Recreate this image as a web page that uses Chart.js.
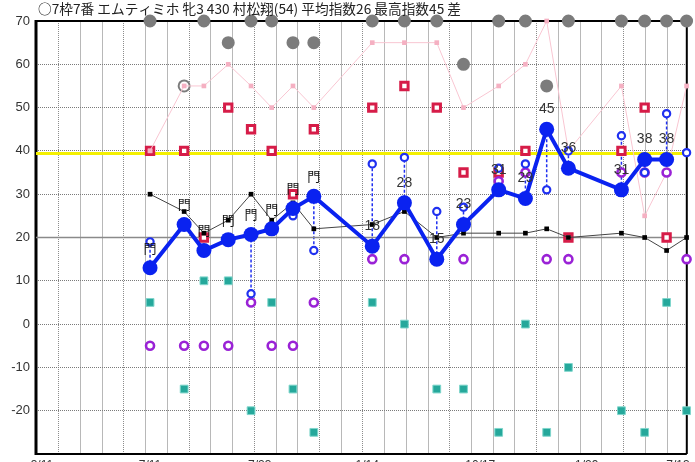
<!DOCTYPE html>
<html>
<head>
<meta charset="utf-8">
<script src="https://cdn.jsdelivr.net/npm/chart.js@4.4.1/dist/chart.umd.min.js"></script>
<style>
  html, body { margin: 0; padding: 0; background: #fff; overflow: hidden; }
  #wrap { width: 695px; height: 462px; overflow: hidden; }
</style>
</head>
<body>
<div id="wrap"><canvas id="chart" width="695" height="480"></canvas></div>
<script>
const titleText = '○7枠7番 エムティミホ 牝3 430 村松翔(54) 平均指数26 最高指数45 差';

// race positions on the time axis (grid units)
const raceX = [4.2, 5.77, 6.68, 7.8, 8.85, 9.8, 10.78, 11.74, 14.43, 15.91, 17.4, 18.63, 20.25, 21.48, 22.46, 23.46, 25.9, 26.97, 27.98, 28.9];

const mainIndex = [13, 23, 17, 19.5, 20.7, 22, 26.7, 29.5, 18, 28, 15, 23, 31, 29, 45, 36, 31, 38, 38, null];
const mainLabels = ['門', '門', '門', '門', '門', '門', '門', '門', '18', '28', '15', '23', '31', '29', '45', '36', '31', '38', '38', ''];
const ringIndex = [19, null, null, null, 7, null, 25, 17, 37, 38.5, 26, 27, 36, 37, 31, 40, 43.5, 35, 48.6, 39.6];
const blackLine = [30, 26, 21, 24, 30, 24, 28, 22, 23, 26, 20, 21, 21, 21, 22, 20, 21, 20, 17, 20];
const pinkLine = [40, 55, 55, 60, 55, 50, 55, 50, 65, 65, 65, 50, 55, 60, 70, 40, 55, 25, 35, 55];
const redMarks = [40, 40, 20, 50, 45, 40, 30, 45, 50, 55, 50, 35, 35, 40, null, 20, 40, 50, 20, null];
const grayMarks = [70, 55, 70, 65, 70, 70, 65, 65, 70, 70, 70, 60, 70, 70, 55, 70, 70, 70, 70, 70];
const purpleMarks = [-5, -5, -5, -5, 5, -5, -5, 5, 15, 15, 15, 15, 33, 35, 15, 15, 35, 35, 35, 15];
const tealMarks = [5, -15, 10, 10, -20, 5, -15, -25, 5, 0, -15, -15, -25, 0, -25, -10, -20, -25, 5, -20];

const yellowLevel = 39.4;
const baseLevel = 20;

const X_MIN = -1.05, X_MAX = 28.91;
const Y_MIN = -30, Y_MAX = 70;
const yTicks = [-20, -10, 0, 10, 20, 30, 40, 50, 60, 70];
const xTickPos = [-0.78, 4.2, 9.25, 14.2, 19.4, 24.3, 28.5];
const xTickLabels = ['3/11', '7/11', '7/23', '1/14', '10/17', '1/29', '7/13'];
const dottedGrid = [0, 3, 6, 9, 12, 14, 18, 22, 26];
const hollowGray = [1];

function pts(values) {
    return values.map((v, i) => ({ x: raceX[i], y: v })).filter(p => p.y !== null);
}

const solidGrid = [];
for (let k = 0; k <= 28; k++) if (!dottedGrid.includes(k)) solidGrid.push(k);

function setTicks(list) {
    return axis => { axis.ticks = list.map(v => ({ value: v })); };
}

// dashed connectors between main index and blue rings, plus frame
const underPlugin = {
    id: 'under',
    beforeDatasetsDraw(chart) {
        const { ctx, chartArea: a, scales } = chart;
        ctx.save();
        ctx.strokeStyle = '#000';
        ctx.lineWidth = 2;
        ctx.beginPath();
        ctx.moveTo(a.left, a.top); ctx.lineTo(a.right, a.top);
        ctx.moveTo(a.right, a.top); ctx.lineTo(a.right, a.bottom);
        ctx.moveTo(a.left, a.bottom); ctx.lineTo(a.right, a.bottom);
        ctx.stroke();
        ctx.lineWidth = 3;
        ctx.beginPath();
        ctx.moveTo(a.left, a.top - 1); ctx.lineTo(a.left, a.bottom + 1);
        ctx.stroke();

        ctx.strokeStyle = '#2030f0';
        ctx.lineWidth = 1.5;
        ctx.setLineDash([3, 2]);
        raceX.forEach((x, i) => {
            if (mainIndex[i] === null || ringIndex[i] === null) return;
            const px = scales.x.getPixelForValue(x);
            ctx.beginPath();
            ctx.moveTo(px, scales.y.getPixelForValue(mainIndex[i]));
            ctx.lineTo(px, scales.y.getPixelForValue(ringIndex[i]));
            ctx.stroke();
        });
        ctx.restore();
    }
};

const labelPlugin = {
    id: 'labels',
    afterDatasetsDraw(chart) {
        const { ctx, chartArea: a, scales } = chart;
        ctx.save();
        ctx.textAlign = 'center';
        ctx.textBaseline = 'middle';
        raceX.forEach((x, i) => {
            if (mainIndex[i] === null || !mainLabels[i]) return;
            const px = scales.x.getPixelForValue(x);
            const py = scales.y.getPixelForValue(mainIndex[i]) - 20;
            if (mainLabels[i] === '門') {
                ctx.font = '13px "Noto Sans CJK JP"';
                ctx.fillStyle = '#111';
            } else {
                ctx.font = '14px "Liberation Sans", Arial, sans-serif';
                ctx.fillStyle = '#333';
            }
            ctx.fillText(mainLabels[i], px, py);
        });
        ctx.font = '13.7px "Noto Sans CJK JP"';
        ctx.fillStyle = '#222';
        ctx.textAlign = 'left';
        ctx.fillText(titleText, a.left + 2, 9);
        ctx.restore();
    }
};

const markerSet = (values, style, extra) => Object.assign({
    data: pts(values),
    showLine: false,
    clip: false
}, style, extra);

new Chart(document.getElementById('chart'), {
    type: 'scatter',
    data: {
        datasets: [
            {
                data: [{ x: X_MIN, y: yellowLevel }, { x: X_MAX, y: yellowLevel }],
                showLine: true, borderColor: '#f4f000', borderWidth: 3, pointRadius: 0, order: 20
            },
            {
                data: [{ x: X_MIN, y: baseLevel }, { x: X_MAX, y: baseLevel }],
                showLine: true, borderColor: '#8a8a8a', borderWidth: 1.5, pointRadius: 0, order: 19
            },
            markerSet(grayMarks, {
                pointStyle: 'circle', pointRadius: 5.5,
                pointBackgroundColor: c => hollowGray.includes(c.dataIndex) ? '#fff' : '#7c7c7c',
                pointBorderColor: '#7c7c7c', pointBorderWidth: 2, order: 12
            }),
            markerSet(redMarks, {
                pointStyle: 'rect', pointRadius: 5.2, pointBackgroundColor: '#fff',
                pointBorderColor: '#d61c48', pointBorderWidth: 3, order: 11
            }),
            {
                data: pts(pinkLine), showLine: true, clip: false,
                borderColor: '#f9c6d2', borderWidth: 1,
                pointStyle: 'rect', pointRadius: 3.3, pointBackgroundColor: '#f5b0c2',
                pointBorderColor: '#f5b0c2', pointBorderWidth: 0, order: 10
            },
            {
                data: pts(blackLine), showLine: true, clip: false,
                borderColor: '#444', borderWidth: 1,
                pointStyle: 'rect', pointRadius: 3.3, pointBackgroundColor: '#000',
                pointBorderColor: '#000', pointBorderWidth: 0, order: 9
            },
            markerSet(tealMarks, {
                pointStyle: 'rect', pointRadius: 5.5, pointBackgroundColor: '#25a89b',
                pointBorderColor: '#7fd6cc', pointBorderWidth: 1, order: 8
            }),
            markerSet(purpleMarks, {
                pointStyle: 'circle', pointRadius: 4, pointBackgroundColor: '#fff',
                pointBorderColor: '#9a22d6', pointBorderWidth: 2.6, order: 7
            }),
            markerSet(ringIndex, {
                pointStyle: 'circle', pointRadius: 3.6, pointBackgroundColor: '#fff',
                pointBorderColor: '#1f30f0', pointBorderWidth: 2.2, order: 6
            }),
            {
                data: pts(mainIndex), showLine: true, clip: false,
                borderColor: '#0a22f0', borderWidth: 4,
                pointStyle: 'circle', pointRadius: 7.5, pointBackgroundColor: '#0a22f0',
                pointBorderColor: '#0a22f0', pointBorderWidth: 0, order: 1
            }
        ]
    },
    options: {
        responsive: false,
        animation: false,
        devicePixelRatio: 1,
        layout: { padding: { top: 21, right: 2, left: 0, bottom: 0 } },
        plugins: { legend: { display: false }, tooltip: { enabled: false } },
        elements: { line: { tension: 0 } },
        scales: {
            x: {
                type: 'linear', position: 'bottom', min: X_MIN, max: X_MAX,
                afterBuildTicks: setTicks(solidGrid),
                afterFit: axis => { axis.height = 0; axis.paddingLeft = 0; axis.paddingRight = 0; },
                ticks: { display: false },
                grid: { color: '#b8b8b8', lineWidth: 1, drawTicks: false },
                border: { display: false }
            },
            xd: {
                type: 'linear', position: 'bottom', min: X_MIN, max: X_MAX,
                afterBuildTicks: setTicks(dottedGrid),
                afterFit: axis => { axis.height = 0; axis.paddingLeft = 0; axis.paddingRight = 0; },
                ticks: { display: false },
                grid: { color: '#8c8c8c', lineWidth: 1, drawTicks: false },
                border: { display: false, dash: [1, 1] }
            },
            xl: {
                type: 'linear', position: 'bottom', min: X_MIN, max: X_MAX,
                afterBuildTicks: setTicks(xTickPos),
                afterFit: axis => { axis.height = 26; axis.paddingLeft = 0; axis.paddingRight = 0; },
                grid: { display: false, drawTicks: false },
                border: { display: false },
                ticks: {
                    autoSkip: false, maxRotation: 0, padding: 4,
                    color: '#333', font: { family: '"Liberation Sans", Arial, sans-serif', size: 12 },
                    callback: (v, i) => xTickLabels[i]
                }
            },
            y: {
                type: 'linear', min: Y_MIN, max: Y_MAX,
                afterBuildTicks: setTicks(yTicks),
                afterFit: axis => { axis.width = 36; axis.paddingTop = 0; axis.paddingBottom = 0; },
                grid: { color: '#7a7a7a', lineWidth: 1, drawTicks: false },
                border: { display: false, dash: [1, 1] },
                ticks: {
                    padding: 6, color: '#333',
                    font: { family: '"Liberation Sans", Arial, sans-serif', size: 13 }
                }
            }
        }
    },
    plugins: [underPlugin, labelPlugin]
});
</script>
</body>
</html>
